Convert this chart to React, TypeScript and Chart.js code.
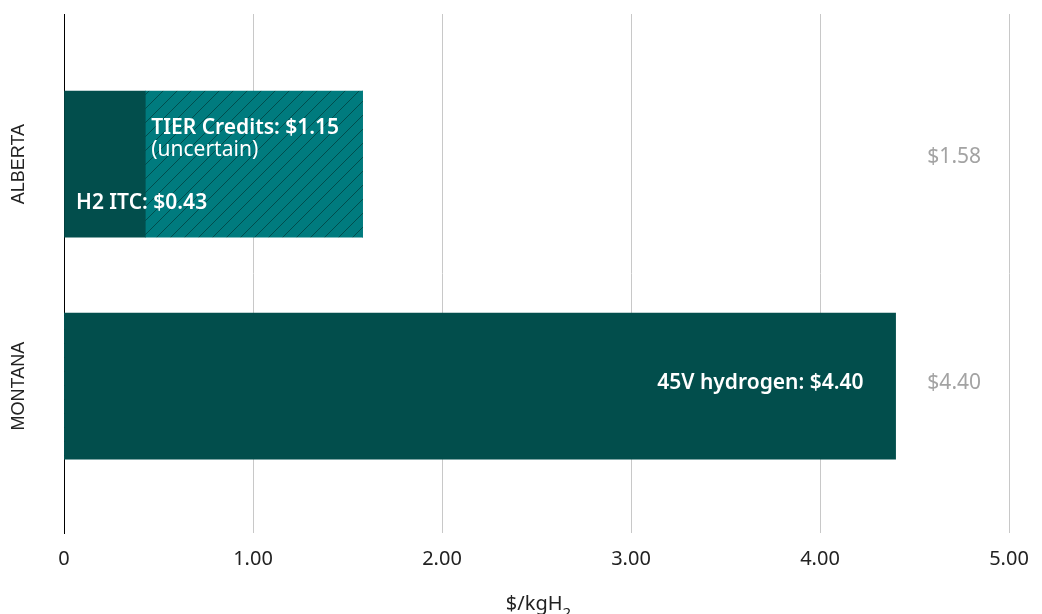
import React, { useEffect, useRef } from "react";
import { Chart, registerables } from "chart.js";

Chart.register(...registerables);

const categories = ["ALBERTA", "MONTANA"];
const itcValues = [0.43, 0];
const tierValues = [1.15, 0];
const h45vValues = [0, 4.4];
const xTicks = [0, 1, 2, 3, 4, 5];

const DARK = "#024e4c";
const LIGHT = "#007b7e";
const FONT = "'Noto Sans', 'Open Sans', sans-serif";

function makeHatch(): CanvasPattern | string {
  const s = 14;
  const c = document.createElement("canvas");
  c.width = s;
  c.height = s;
  const ctx = c.getContext("2d");
  if (!ctx) return LIGHT;
  ctx.fillStyle = LIGHT;
  ctx.fillRect(0, 0, s, s);
  ctx.strokeStyle = "rgba(2,62,62,0.75)";
  ctx.lineWidth = 1;
  ctx.beginPath();
  ctx.moveTo(-1, s + 1);
  ctx.lineTo(s + 1, -1);
  ctx.moveTo(-s / 2, s / 2);
  ctx.lineTo(s / 2, -s / 2);
  ctx.moveTo(s / 2, s * 1.5);
  ctx.lineTo(s * 1.5, s / 2);
  ctx.stroke();
  return ctx.createPattern(c, "repeat") || LIGHT;
}

const labelPlugin = {
  id: "labelPlugin",
  afterDatasetsDraw(chart: any) {
    const { ctx } = chart;
    const xs = chart.scales.x;
    const ys = chart.scales.y;
    ctx.save();
    ctx.textBaseline = "middle";
    // category labels (rotated)
    ctx.fillStyle = "#222";
    ctx.font = `18px 'Liberation Sans', Arial, sans-serif`;
    ctx.textAlign = "center";
    categories.forEach((c, i) => {
      const y = ys.getPixelForValue(i);
      ctx.save();
      ctx.translate(11, y);
      ctx.rotate(-Math.PI / 2);
      ctx.fillText(c, 0, 0);
      ctx.restore();
    });
    // Alberta labels
    const yA = ys.getPixelForValue(0);
    ctx.fillStyle = "#fff";
    ctx.textAlign = "left";
    ctx.font = `600 21px ${FONT}`;
    ctx.fillText(`H2 ITC: $${itcValues[0].toFixed(2)}`, xs.getPixelForValue(0) + 12, yA + 39);
    const tierX = xs.getPixelForValue(itcValues[0]) + 6;
    ctx.fillText(`TIER Credits: $${tierValues[0].toFixed(2)}`, tierX, yA - 36);
    ctx.font = `21px ${FONT}`;
    ctx.fillText("(uncertain)", tierX, yA - 14);
    // Montana label
    const yM = ys.getPixelForValue(1);
    ctx.font = `600 21px ${FONT}`;
    ctx.textAlign = "right";
    ctx.fillText(`45V hydrogen: $${h45vValues[1].toFixed(2)}`, xs.getPixelForValue(h45vValues[1]) - 32, yM - 3);
    // totals
    ctx.fillStyle = "#a3a3a3";
    ctx.font = `21px ${FONT}`;
    ctx.textAlign = "center";
    const totalOffsets = [-7, -3];
    categories.forEach((_, i) => {
      const total = itcValues[i] + tierValues[i] + h45vValues[i];
      ctx.fillText(`$${total.toFixed(2)}`, xs.getPixelForValue(4.71), ys.getPixelForValue(i) + totalOffsets[i]);
    });
    // axis title with subscript
    ctx.fillStyle = "#222";
    ctx.textAlign = "left";
    ctx.font = `20px ${FONT}`;
    const main = "$/kgH";
    const w = ctx.measureText(main).width;
    ctx.font = `15px ${FONT}`;
    const w2 = ctx.measureText("2").width;
    const cx = (xs.left + xs.right) / 2;
    const startX = cx - (w + w2) / 2 + 2;
    ctx.font = `20px ${FONT}`;
    ctx.fillText(main, startX, 596);
    ctx.font = `15px ${FONT}`;
    ctx.fillText("2", startX + w, 606);
    ctx.restore();
  },
};

export default function App() {
  const ref = useRef<HTMLCanvasElement | null>(null);
  useEffect(() => {
    if (!ref.current) return;
    const hatch = makeHatch();
    const toPts = (arr: number[]) => arr.map((v, i) => ({ x: v, y: i }));
    const chart = new Chart(ref.current, {
      type: "bar",
      data: {
        datasets: [
          { label: "H2 ITC", data: toPts(itcValues) as any, backgroundColor: DARK, barThickness: 146 },
          { label: "TIER Credits", data: toPts(tierValues) as any, backgroundColor: hatch as any, barThickness: 146 },
          { label: "45V hydrogen", data: toPts(h45vValues) as any, backgroundColor: DARK, barThickness: 146 },
        ],
      },
      options: {
        indexAxis: "y",
        animation: false,
        responsive: false,
        maintainAspectRatio: false,
        layout: { padding: { top: 6, right: 25, left: 0, bottom: 0 } },
        plugins: { legend: { display: false }, tooltip: { enabled: false } },
        scales: {
          x: {
            type: "linear",
            stacked: true,
            min: 0,
            max: 5,
            afterBuildTicks: (s: any) => {
              s.ticks = xTicks.map((v) => ({ value: v }));
            },
            afterFit: (s: any) => {
              s.height = 81;
              s.paddingLeft = 0;
              s.paddingRight = 0;
            },
            ticks: {
              color: "#222",
              font: { family: FONT, size: 20 },
              padding: 14,
              callback: (v: any) => (Number(v) === 0 ? "0" : Number(v).toFixed(2)),
            },
            grid: { color: "#c8c8c8", lineWidth: 1, drawTicks: false },
            border: { display: false },
          },
          y: {
            type: "linear",
            stacked: true,
            reverse: true,
            offset: false,
            min: -0.676,
            max: 1.662,
            afterFit: (s: any) => {
              s.width = 56;
              s.paddingTop = 0;
              s.paddingBottom = 0;
            },
            ticks: { display: false },
            grid: { display: false, offset: false },
            border: { display: true, color: "#000", width: 1 },
          },
        },
      },
      plugins: [labelPlugin],
    });
    return () => chart.destroy();
  }, []);
  return (
    <div style={{ width: 1026, height: 606 }}>
      <canvas ref={ref} width={1026} height={606} style={{ display: "block" }} />
    </div>
  );
}
